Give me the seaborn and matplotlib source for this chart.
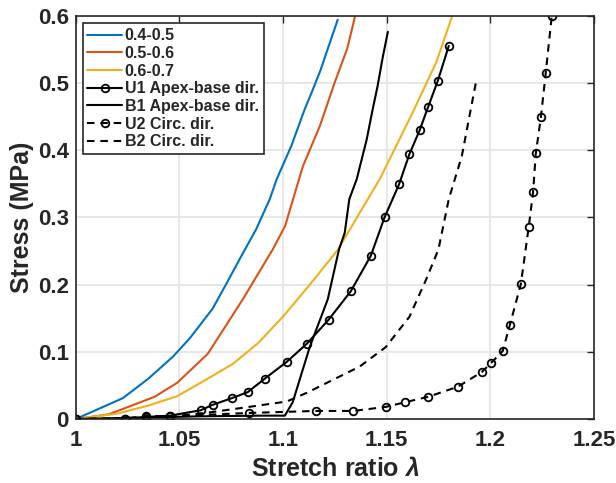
import matplotlib
matplotlib.use("Agg")
import matplotlib.pyplot as plt
import seaborn as sns
import pandas as pd
import numpy as np

# ---- data ----
x_045 = [1.0, 1.0227, 1.035, 1.047, 1.055, 1.066, 1.073, 1.080, 1.087, 1.0936, 1.097, 1.104, 1.1105, 1.114, 1.118, 1.1264]
y_045 = [0.0, 0.031, 0.060, 0.093, 0.120, 0.164, 0.203, 0.243, 0.282, 0.327, 0.357, 0.406, 0.461, 0.487, 0.518, 0.594]

x_056 = [1.0, 1.016, 1.038, 1.049, 1.0637, 1.0806, 1.095, 1.101, 1.1096, 1.1178, 1.125, 1.131, 1.1347]
y_056 = [0.0, 0.007, 0.033, 0.054, 0.097, 0.178, 0.252, 0.287, 0.376, 0.436, 0.501, 0.551, 0.598]

x_067 = [1.0, 1.020, 1.035, 1.049, 1.062, 1.0758, 1.088, 1.0999, 1.113, 1.1265, 1.1467, 1.1626, 1.174, 1.1815]
y_067 = [0.0, 0.008, 0.020, 0.034, 0.057, 0.082, 0.113, 0.152, 0.200, 0.252, 0.357, 0.456, 0.531, 0.598]

x_u1 = [1.0, 1.0236, 1.0338, 1.0454, 1.0603, 1.066, 1.0753, 1.083, 1.0912, 1.1018, 1.1115, 1.1221, 1.1327, 1.1424, 1.149, 1.156, 1.161, 1.166, 1.170, 1.1747, 1.180]
y_u1 = [0.0, 0.0, 0.003, 0.005, 0.013, 0.021, 0.031, 0.040, 0.060, 0.085, 0.112, 0.148, 0.190, 0.243, 0.300, 0.349, 0.394, 0.430, 0.464, 0.503, 0.555]

x_b1 = [1.0, 1.03, 1.06, 1.09, 1.1009, 1.1047, 1.113, 1.1216, 1.127, 1.1298, 1.132, 1.1356, 1.1404, 1.1433, 1.1457, 1.148, 1.1506]
y_b1 = [0.0, 0.002, 0.004, 0.005, 0.005, 0.025, 0.108, 0.178, 0.252, 0.277, 0.327, 0.357, 0.416, 0.461, 0.496, 0.536, 0.576]

x_u2 = [1.0, 1.0236, 1.0338, 1.0454, 1.0835, 1.116, 1.134, 1.1496, 1.159, 1.170, 1.1844, 1.196, 1.2003, 1.206, 1.2095, 1.2148, 1.2186, 1.2207, 1.222, 1.2245, 1.2268, 1.2297]
y_u2 = [0.0, 0.0, 0.005, 0.004, 0.009, 0.012, 0.012, 0.018, 0.025, 0.033, 0.048, 0.070, 0.083, 0.101, 0.140, 0.201, 0.286, 0.338, 0.395, 0.450, 0.515, 0.600]

x_b2 = [1.0, 1.03, 1.05, 1.065, 1.079, 1.1018, 1.1115, 1.137, 1.1496, 1.161, 1.169, 1.175, 1.180, 1.1863, 1.190, 1.1935]
y_b2 = [0.0, 0.002, 0.005, 0.010, 0.016, 0.026, 0.039, 0.078, 0.107, 0.152, 0.207, 0.252, 0.327, 0.391, 0.451, 0.507]

labels = ["0.4-0.5", "0.5-0.6", "0.6-0.7", "U1 Apex-base dir.", "B1 Apex-base dir.", "U2 Circ. dir.", "B2 Circ. dir."]
xs = [x_045, x_056, x_067, x_u1, x_b1, x_u2, x_b2]
ys = [y_045, y_056, y_067, y_u1, y_b1, y_u2, y_b2]
colors = ["#0072BD", "#D95319", "#EDB120", "black", "black", "black", "black"]
dashed = [False, False, False, False, False, True, True]
markers = [None, None, None, "o", None, "o", None]

x_ticks = [1.0, 1.05, 1.1, 1.15, 1.2, 1.25]
x_ticklabels = ["1", "1.05", "1.1", "1.15", "1.2", "1.25"]
y_ticks = [0, 0.1, 0.2, 0.3, 0.4, 0.5, 0.6]
y_ticklabels = ["0", "0.1", "0.2", "0.3", "0.4", "0.5", "0.6"]

sns.set_style("whitegrid")
plt.rcParams['font.family'] = ['Liberation Sans', 'DejaVu Sans']
plt.rcParams['font.weight'] = 'bold'
plt.rcParams['mathtext.fontset'] = 'custom'
plt.rcParams['mathtext.it'] = 'Liberation Sans:italic:bold'
plt.rcParams['mathtext.rm'] = 'Liberation Sans:bold'

TXT = "#262626"

fig = plt.figure(figsize=(6.16, 4.83), dpi=100)
ax = fig.add_axes([0.123, 0.1325, 0.841, 0.835])

for x, y, lab, c, d, m in zip(xs, ys, labels, colors, dashed, markers):
    df = pd.DataFrame({"x": x, "y": y})
    kw = {}
    if m:
        kw = dict(marker="o", markersize=5.5, markerfacecolor="none",
                  markeredgecolor="black", markeredgewidth=1.3)
    if d:
        kw["dashes"] = (3.6, 2.8)
    sns.lineplot(data=df, x="x", y="y", ax=ax, color=c,
                 linewidth=1.5, sort=False, estimator=None, label=lab, **kw)

ax.set_xlim(1.0, 1.25)
ax.set_ylim(0, 0.6)
ax.set_xticks(x_ticks)
ax.set_xticklabels(x_ticklabels)
ax.set_yticks(y_ticks)
ax.set_yticklabels(y_ticklabels)
ax.tick_params(axis="both", labelsize=16, direction="in", length=5, width=1,
               top=True, right=True, colors=TXT, labelcolor=TXT)
ax.tick_params(axis="x", pad=8)
ax.tick_params(axis="y", pad=5)
for lbl in ax.get_xticklabels() + ax.get_yticklabels():
    lbl.set_fontweight("bold")
ax.grid(True, color="#e3e3e3", linewidth=1.2)
for s in ax.spines.values():
    s.set_color(TXT)
    s.set_linewidth(1.2)
ax.set_xlabel(r"Stretch ratio $\lambda$", fontsize=18, fontweight="bold", labelpad=4, color=TXT)
ax.set_ylabel("Stress (MPa)", fontsize=18, fontweight="bold", labelpad=3, color=TXT)

leg = ax.legend(loc="upper left", bbox_to_anchor=(0.013, 0.981), borderaxespad=0,
                fontsize=11.5, frameon=True, fancybox=False, framealpha=1,
                edgecolor=TXT, borderpad=0.3, labelspacing=0.17,
                handlelength=2.2, handletextpad=0.15)
leg.get_frame().set_linewidth(1.2)
for t in leg.get_texts():
    t.set_fontweight("bold")
    t.set_color(TXT)

fig.savefig("out.png", dpi=100)
